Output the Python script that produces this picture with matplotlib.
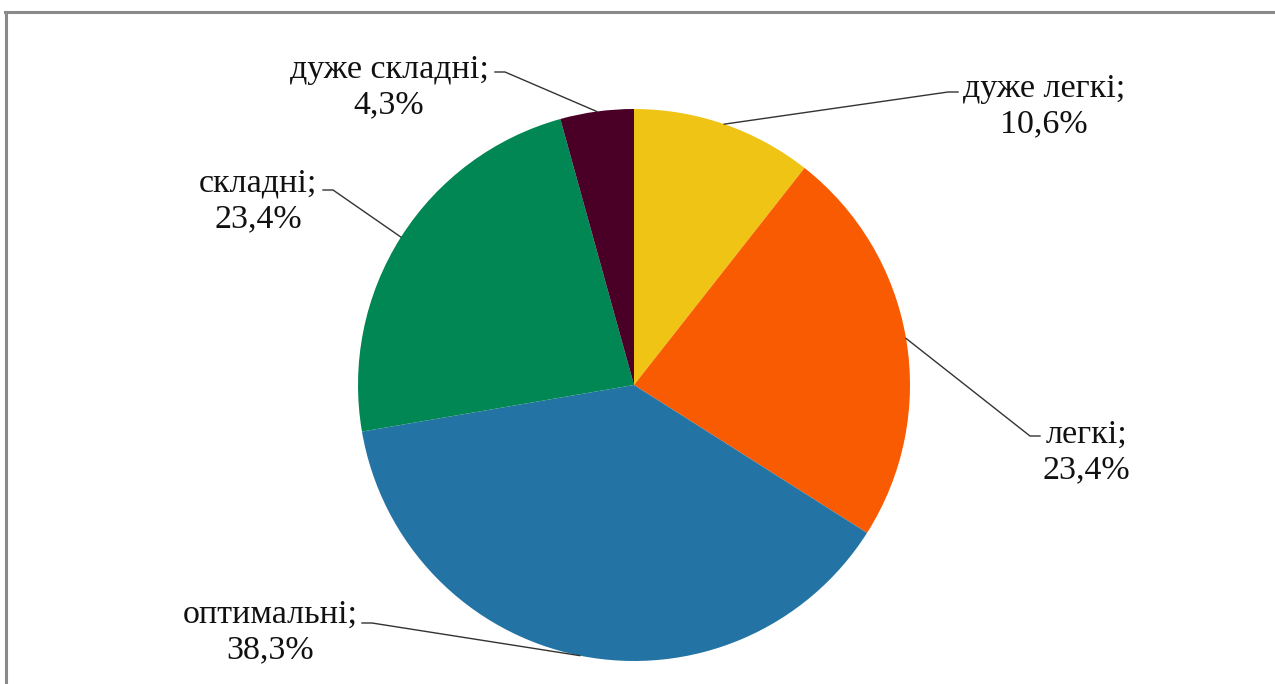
import numpy as np
import matplotlib
matplotlib.use("Agg")
import matplotlib.pyplot as plt
from matplotlib.lines import Line2D

categories = ["дуже легкі", "легкі", "оптимальні", "складні", "дуже складні"]
values = [10.6, 23.4, 38.3, 23.4, 4.3]
colors = ["#F0C414", "#F95B02", "#2473A5", "#008754", "#4A0026"]

W, H = 1275, 684
fig = plt.figure(figsize=(W / 100, H / 100), dpi=100)
plt.rcParams['font.family'] = ['Liberation Serif', 'DejaVu Serif']

cx, cy, r = 634, 385, 276
ax = fig.add_axes([(cx - r) / W, (H - cy - r) / H, 2 * r / W, 2 * r / H])
wedges, _ = ax.pie(values, colors=colors, startangle=90, counterclock=False,
                   radius=1.0, wedgeprops=dict(linewidth=0))
ax.set_xlim(-1, 1)
ax.set_ylim(-1, 1)
ax.set_aspect('equal')
ax.axis('off')

def fx(x):
    return x / W

def fy(y):
    return 1 - y / H

# label block centres (pixels) and leader start points (pixels)
label_pos = [(1044, 106), (1086, 452), (270, 632), (258, 201), (389, 87)]
leader_start = [(958, 92), (1040, 436), (362, 623), (323, 190), (495, 72)]
leader_dir = [-1, -1, 1, 1, 1]

for i, (cat, val) in enumerate(zip(categories, values)):
    w = wedges[i]
    mid = np.deg2rad((w.theta1 + w.theta2) / 2)
    px = cx + r * np.cos(mid)
    py = cy - r * np.sin(mid)
    sx, sy = leader_start[i]
    kx = sx + leader_dir[i] * 10
    line = Line2D([fx(sx), fx(kx), fx(px)], [fy(sy), fy(sy), fy(py)],
                  transform=fig.transFigure, color="#333333", linewidth=1.0)
    fig.add_artist(line)
    lx, ly = label_pos[i]
    txt = f"{cat};\n{str(val).replace('.', ',')}%"
    fig.text(fx(lx), fy(ly), txt, ha='center', va='center', fontsize=24.5,
             linespacing=1.2, color="#111111")

# frame lines (top and left)
fig.add_artist(Line2D([fx(5), fx(W)], [fy(12), fy(12)], transform=fig.transFigure,
                      color="#8a8a8a", linewidth=2.2))
fig.add_artist(Line2D([fx(6), fx(6)], [fy(12), fy(H)], transform=fig.transFigure,
                      color="#8a8a8a", linewidth=2.2))

fig.savefig("out.png", dpi=100)
